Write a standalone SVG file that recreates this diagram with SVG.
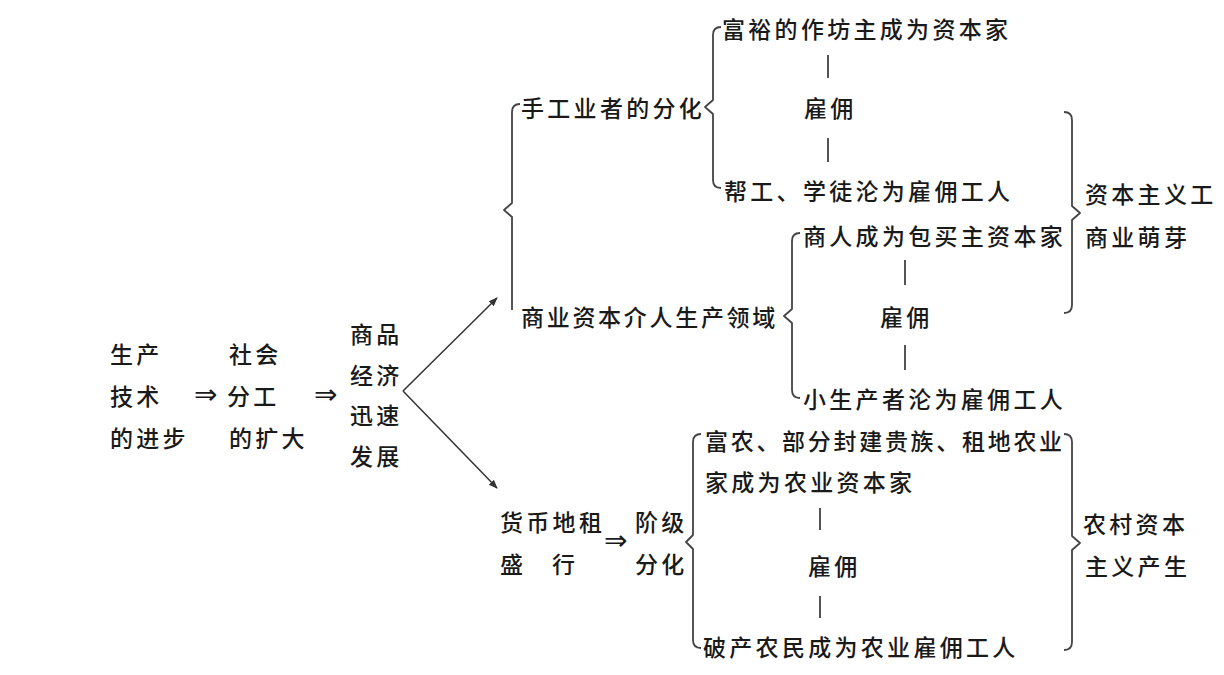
<svg xmlns="http://www.w3.org/2000/svg" width="1224" height="675" viewBox="0 0 1224 675">
<style>
text{font-family:"Noto Sans CJK SC","Noto Sans",sans-serif;font-size:23px;font-weight:500;letter-spacing:3.3px;fill:#1a1a1a;dominant-baseline:central}
.ar{font-family:"DejaVu Sans",sans-serif;font-size:28px;font-weight:400;letter-spacing:0}
.tight{letter-spacing:2.7px}
.br{fill:none;stroke:#444;stroke-width:1.8;stroke-linejoin:round}
.ln{stroke:#555;stroke-width:2}
.arr{stroke:#333;stroke-width:1.5;fill:none;marker-end:url(#ah)}
</style>
<defs>
<marker id="ah" viewBox="0 0 10 10" refX="9" refY="5" markerWidth="9" markerHeight="9" markerUnits="userSpaceOnUse" orient="auto"><path d="M0,1 L10,5 L0,9 z" fill="#333"/></marker>
</defs>
<rect width="1224" height="675" fill="#fff"/>
<g id="connectors">
<path class="arr" d="M403,391 L497,298"/>
<path class="arr" d="M403,391 L497,488"/>
<path class="br" d="M520,104 Q512,104 512,112 L512,203 L504,210 L512,217 L512,310"/>
<path class="br" d="M721,27 Q713,27 713,35 L713,100 L705,107 L713,114 L713,180 Q713,188 721,188"/>
<path class="br" d="M800,233 Q792,233 792,241 L792,309 L784,316 L792,323 L792,390 Q792,398 800,398"/>
<path class="br" d="M1064,112 Q1072,112 1072,120 L1072,206 L1080,213 L1072,220 L1072,305 Q1072,313 1064,313"/>
<path class="br" d="M701,434 Q693,434 693,442 L693,535 L686,542 L693,549 L693,640 Q693,648 701,648"/>
<path class="br" d="M1064,434 Q1072,434 1072,442 L1072,536 L1080,543 L1072,550 L1072,642 Q1072,650 1064,650"/>
<line class="ln" x1="828" y1="55" x2="828" y2="78"/>
<line class="ln" x1="828" y1="138" x2="828" y2="162"/>
<line class="ln" x1="905" y1="260" x2="905" y2="285"/>
<line class="ln" x1="905" y1="345" x2="905" y2="370"/>
<line class="ln" x1="820" y1="508" x2="820" y2="530"/>
<line class="ln" x1="820" y1="596" x2="820" y2="618"/>
</g>
<g id="n-tech"><text x="110" y="353">生产</text><text x="110" y="395">技术</text><text x="110" y="437">的进步</text></g>
<g id="a1"><text class="ar" x="194" y="394">⇒</text></g>
<g id="n-fengong"><text x="229" y="353">社会</text><text x="227" y="395">分工</text><text x="229" y="437">的扩大</text></g>
<g id="a2"><text class="ar" x="314" y="394">⇒</text></g>
<g id="n-shangpin"><text x="350" y="333">商品</text><text x="350" y="374">经济</text><text x="350" y="414">迅速</text><text x="350" y="455">发展</text></g>
<g id="n-shougong"><text x="521" y="107">手工业者的分化</text></g>
<g id="n-fuyu"><text x="722" y="28">富裕的作坊主成为资本家</text></g>
<g id="n-guyong1"><text x="804" y="107">雇佣</text></g>
<g id="n-bang"><text x="724" y="190">帮工、学徒沦为雇佣工人</text></g>
<g id="n-shangye"><text class="tight" x="521" y="316">商业资本介人生产领域</text></g>
<g id="n-shangren"><text x="803" y="235">商人成为包买主资本家</text></g>
<g id="n-guyong2"><text x="880" y="316">雇佣</text></g>
<g id="n-xiao"><text x="803" y="398">小生产者沦为雇佣工人</text></g>
<g id="n-mengya"><text x="1085" y="193">资本主义工</text><text x="1085" y="236">商业萌芽</text></g>
<g id="n-huobi"><text x="500" y="521">货币地租</text><text x="500" y="563">盛</text><text x="552" y="563">行</text></g>
<g id="a3"><text class="ar" x="604" y="540">⇒</text></g>
<g id="n-jieji"><text x="635" y="521">阶级</text><text x="635" y="563">分化</text></g>
<g id="n-funong"><text class="tight" x="705" y="440">富农、部分封建贵族、租地农业</text><text x="705" y="481">家成为农业资本家</text></g>
<g id="n-guyong3"><text x="808" y="565">雇佣</text></g>
<g id="n-pochan"><text x="703" y="646">破产农民成为农业雇佣工人</text></g>
<g id="n-nongcun"><text x="1083" y="523">农村资本</text><text x="1085" y="565">主义产生</text></g>
</svg>
